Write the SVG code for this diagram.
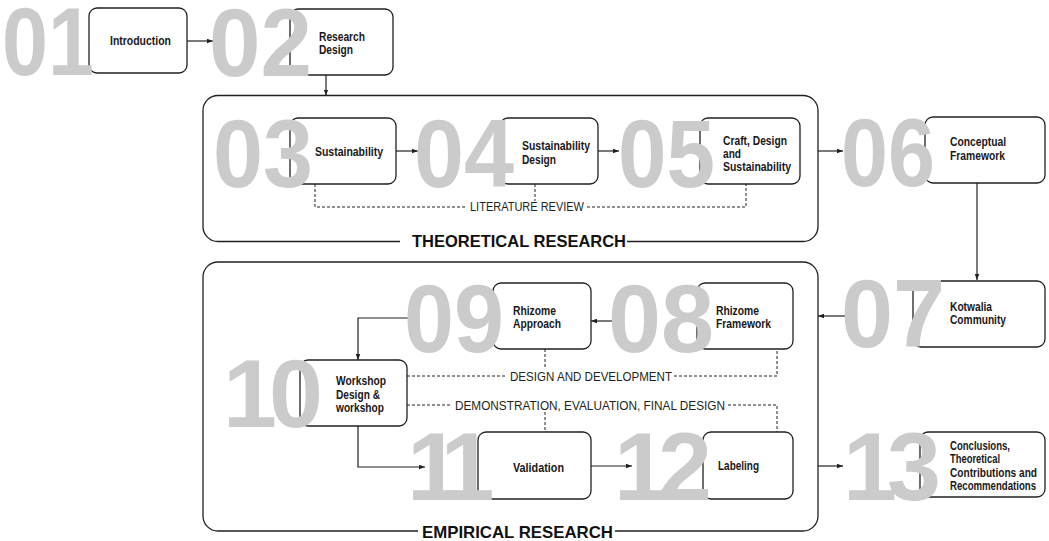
<svg xmlns="http://www.w3.org/2000/svg" width="1049" height="541" viewBox="0 0 1049 541">
  <defs>
    <marker id="arrow" viewBox="0 0 8 6" refX="8" refY="3" markerWidth="6" markerHeight="5" markerUnits="userSpaceOnUse" orient="auto">
      <path d="M0,0 L8,3 L0,6 Z" fill="#231f20"/>
    </marker>
  </defs>
  <style>
    .box { fill: #ffffff; stroke: #231f20; stroke-width: 1.3; }
    .frame { fill: none; stroke: #231f20; stroke-width: 1.3; }
    .num { font-family: "Liberation Sans", Arial, sans-serif; font-weight: bold; font-size: 97px; fill: #cbcbcc; }
    .lbl { font-family: "Liberation Sans", Arial, sans-serif; font-weight: bold; font-size: 12.5px; fill: #1a1718; }
    .small { font-size: 12px; }
    .phase { font-family: "Liberation Sans", Arial, sans-serif; font-size: 12px; fill: #231f20; }
    .title { font-family: "Liberation Sans", Arial, sans-serif; font-weight: bold; font-size: 16.5px; fill: #111111; }
    .link { fill: none; stroke: #231f20; stroke-width: 1.2; }
    .dash { fill: none; stroke: #231f20; stroke-width: 1; stroke-dasharray: 3 2; }
  </style>

  <!-- research phase frames -->
  <g id="theoretical-research">
    <path class="frame" d="M627 241.5 H803 A15 15 0 0 0 818 226.5 V110.5 A15 15 0 0 0 803 95.5 H218 A15 15 0 0 0 203 110.5 V226.5 A15 15 0 0 0 218 241.5 H400"/>
    <text class="title" x="412" y="247" textLength="214" lengthAdjust="spacingAndGlyphs">THEORETICAL RESEARCH</text>
  </g>
  <g id="empirical-research">
    <path class="frame" d="M615 531 H803 A15 15 0 0 0 818 516 V277 A15 15 0 0 0 803 262 H218 A15 15 0 0 0 203 277 V516 A15 15 0 0 0 218 531 H418"/>
    <text class="title" x="422" y="537.5" textLength="191" lengthAdjust="spacingAndGlyphs">EMPIRICAL RESEARCH</text>
  </g>

  <!-- connectors -->
  <g id="connectors">
    <path class="link" d="M187 41 H213" marker-end="url(#arrow)"/>
    <path class="link" d="M326 75 V95.5" marker-end="url(#arrow)"/>
    <path class="link" d="M396 151 H418" marker-end="url(#arrow)"/>
    <path class="link" d="M598 151 H619" marker-end="url(#arrow)"/>
    <path class="link" d="M818 151 H843" marker-end="url(#arrow)"/>
    <path class="link" d="M977 183 V280" marker-end="url(#arrow)"/>
    <path class="link" d="M845 316 H818" marker-end="url(#arrow)"/>
    <path class="link" d="M612 321 H591" marker-end="url(#arrow)"/>
    <path class="link" d="M410 318 H358 V360" marker-end="url(#arrow)"/>
    <path class="link" d="M358 426 V467 H425" marker-end="url(#arrow)"/>
    <path class="link" d="M591 466 H632" marker-end="url(#arrow)"/>
    <path class="link" d="M818 466 H843" marker-end="url(#arrow)"/>

    <!-- phase brackets -->
    <path class="dash" d="M315 184 V207 H467"/>
    <path class="dash" d="M587 207 H746 V184"/>
    <path class="dash" d="M535 184 V201"/>
    <text class="phase" x="470" y="211" textLength="114" lengthAdjust="spacingAndGlyphs">LITERATURE REVIEW</text>

    <path class="dash" d="M407 376 H507"/>
    <path class="dash" d="M674 376 H777 V349"/>
    <path class="dash" d="M545 349 V369"/>
    <text class="phase" x="510" y="380.5" textLength="162" lengthAdjust="spacingAndGlyphs">DESIGN AND DEVELOPMENT</text>

    <path class="dash" d="M407 405 H452"/>
    <path class="dash" d="M728 405 H777 V432"/>
    <path class="dash" d="M545 412 V432"/>
    <text class="phase" x="455" y="409.5" textLength="270" lengthAdjust="spacingAndGlyphs">DEMONSTRATION, EVALUATION, FINAL DESIGN</text>
  </g>

  <!-- steps -->
  <g id="n01">
    <rect class="box" x="89" y="8" width="98" height="65" rx="8"/>
    <text class="num" x="2" y="75" textLength="92" lengthAdjust="spacingAndGlyphs">01</text>
    <text class="lbl" x="110" y="45" textLength="61" lengthAdjust="spacingAndGlyphs">Introduction</text>
  </g>
  <g id="n02">
    <rect class="box" x="290" y="9" width="103" height="66" rx="8"/>
    <text class="num" x="209" y="76" textLength="103" lengthAdjust="spacingAndGlyphs">02</text>
    <text class="lbl" x="319" y="41" textLength="46" lengthAdjust="spacingAndGlyphs">Research</text>
    <text class="lbl" x="319" y="54" textLength="34" lengthAdjust="spacingAndGlyphs">Design</text>
  </g>
  <g id="n03">
    <rect class="box" x="290" y="118" width="106" height="66" rx="8"/>
    <text class="num" x="213" y="187" textLength="100" lengthAdjust="spacingAndGlyphs">03</text>
    <text class="lbl" x="315" y="155.5" textLength="68" lengthAdjust="spacingAndGlyphs">Sustainability</text>
  </g>
  <g id="n04">
    <rect class="box" x="500" y="118" width="98" height="66" rx="8"/>
    <text class="num" x="414" y="187" textLength="100" lengthAdjust="spacingAndGlyphs">04</text>
    <text class="lbl" x="522" y="150" textLength="68" lengthAdjust="spacingAndGlyphs">Sustainability</text>
    <text class="lbl" x="522" y="164" textLength="34" lengthAdjust="spacingAndGlyphs">Design</text>
  </g>
  <g id="n05">
    <rect class="box" x="700" y="118" width="100" height="66" rx="8"/>
    <text class="num" x="618" y="187" textLength="97" lengthAdjust="spacingAndGlyphs">05</text>
    <text class="lbl" x="723" y="145" textLength="64" lengthAdjust="spacingAndGlyphs">Craft, Design</text>
    <text class="lbl" x="723" y="158" textLength="18" lengthAdjust="spacingAndGlyphs">and</text>
    <text class="lbl" x="723" y="171" textLength="68" lengthAdjust="spacingAndGlyphs">Sustainability</text>
  </g>
  <g id="n06">
    <rect class="box" x="925" y="117" width="120" height="66" rx="8"/>
    <text class="num" x="841" y="186" textLength="94" lengthAdjust="spacingAndGlyphs">06</text>
    <text class="lbl" x="950" y="146" textLength="56" lengthAdjust="spacingAndGlyphs">Conceptual</text>
    <text class="lbl" x="950" y="159.5" textLength="55" lengthAdjust="spacingAndGlyphs">Framework</text>
  </g>
  <g id="n07">
    <rect class="box" x="913" y="281" width="132" height="66" rx="8"/>
    <text class="num" x="841" y="347" textLength="104" lengthAdjust="spacingAndGlyphs">07</text>
    <text class="lbl" x="950" y="311" textLength="42" lengthAdjust="spacingAndGlyphs">Kotwalia</text>
    <text class="lbl" x="950" y="324" textLength="56" lengthAdjust="spacingAndGlyphs">Community</text>
  </g>
  <g id="n08">
    <rect class="box" x="697" y="283" width="96" height="66" rx="8"/>
    <text class="num" x="608" y="352" textLength="106" lengthAdjust="spacingAndGlyphs">08</text>
    <text class="lbl" x="716" y="315" textLength="43" lengthAdjust="spacingAndGlyphs">Rhizome</text>
    <text class="lbl" x="716" y="328" textLength="55" lengthAdjust="spacingAndGlyphs">Framework</text>
  </g>
  <g id="n09">
    <rect class="box" x="493" y="283" width="98" height="66" rx="8"/>
    <text class="num" x="404" y="352" textLength="100" lengthAdjust="spacingAndGlyphs">09</text>
    <text class="lbl" x="513" y="315" textLength="43" lengthAdjust="spacingAndGlyphs">Rhizome</text>
    <text class="lbl" x="513" y="328" textLength="48" lengthAdjust="spacingAndGlyphs">Approach</text>
  </g>
  <g id="n10">
    <rect class="box" x="300" y="360" width="107" height="66" rx="8"/>
    <text class="num" x="223" y="427" letter-spacing="-8">10</text>
    <text class="lbl" x="336" y="385" textLength="50" lengthAdjust="spacingAndGlyphs">Workshop</text>
    <text class="lbl" x="336" y="398.5" textLength="44" lengthAdjust="spacingAndGlyphs">Design &amp;</text>
    <text class="lbl" x="336" y="412" textLength="48" lengthAdjust="spacingAndGlyphs">workshop</text>
  </g>
  <g id="n11">
    <rect class="box" x="478" y="432" width="113" height="67" rx="8"/>
    <text class="num" x="407" y="500" letter-spacing="-15">11</text>
    <text class="lbl" x="513" y="471.5" textLength="51" lengthAdjust="spacingAndGlyphs">Validation</text>
  </g>
  <g id="n12">
    <rect class="box" x="703" y="432" width="90" height="67" rx="8"/>
    <text class="num" x="614" y="500" letter-spacing="-10">12</text>
    <text class="lbl" x="718" y="469.5" textLength="41" lengthAdjust="spacingAndGlyphs">Labeling</text>
  </g>
  <g id="n13">
    <rect class="box" x="920" y="432" width="125" height="65" rx="8"/>
    <text class="num" x="843" y="500" letter-spacing="-10">13</text>
    <text class="lbl small" x="950" y="449.5" textLength="60" lengthAdjust="spacingAndGlyphs">Conclusions,</text>
    <text class="lbl small" x="950" y="463" textLength="50" lengthAdjust="spacingAndGlyphs">Theoretical</text>
    <text class="lbl small" x="950" y="476.5" textLength="87" lengthAdjust="spacingAndGlyphs">Contributions and</text>
    <text class="lbl small" x="950" y="490" textLength="86" lengthAdjust="spacingAndGlyphs">Recommendations</text>
  </g>
</svg>
